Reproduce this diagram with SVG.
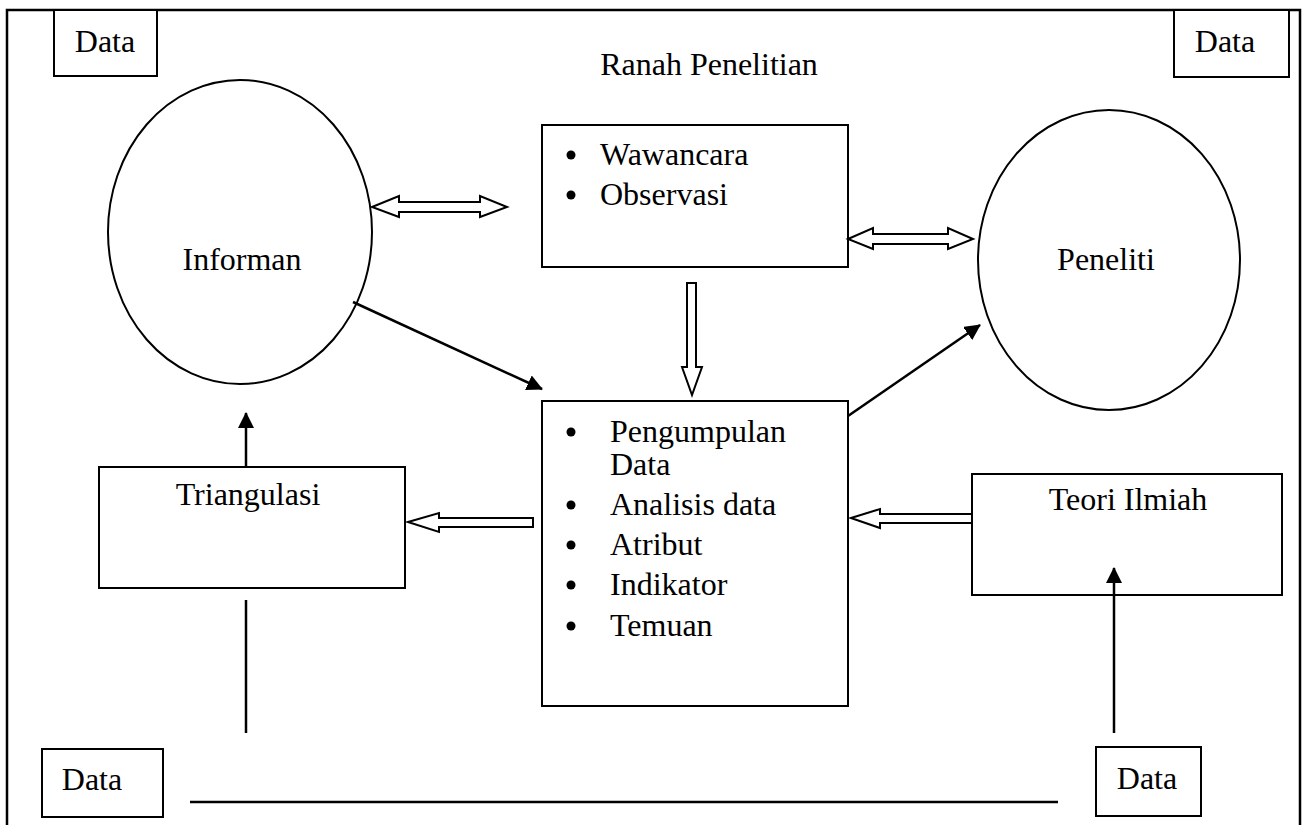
<svg xmlns="http://www.w3.org/2000/svg" width="1302" height="825" viewBox="0 0 1302 825">
<style>
.b{fill:#fff;stroke:#000;stroke-width:2}
.t{font-family:"Liberation Serif","Times New Roman",serif;font-size:32px;fill:#000}
.l{stroke:#000;stroke-width:2.5;fill:none}
.ba{fill:#fff;stroke:#000;stroke-width:2;stroke-linejoin:miter}
</style>
<defs>
<marker id="ah" markerWidth="8" markerHeight="8" refX="7" refY="4" orient="auto" markerUnits="userSpaceOnUse" viewBox="0 0 8 8">
<path d="M0,0 L8,4 L0,8 z" fill="#000"/>
</marker>
<marker id="ah2" viewBox="0 0 16 16" refX="15" refY="8" markerWidth="16" markerHeight="16" orient="auto" markerUnits="userSpaceOnUse">
<path d="M0,0 L16,8 L0,16 z" fill="#000"/>
</marker>
</defs>
<rect x="0" y="0" width="1302" height="825" fill="#fff"/>
<g id="frame">
<path d="M7,830 V10 H1300 V830" class="l" stroke-width="2"/>
</g>
<text class="t" x="709" y="75" text-anchor="middle" id="title">Ranah Penelitian</text>
<g id="data-tl"><rect class="b" x="54" y="10" width="103" height="66"/><text class="t" x="105" y="52" text-anchor="middle">Data</text></g>
<g id="data-tr"><rect class="b" x="1174" y="10" width="115" height="67"/><text class="t" x="1225" y="52" text-anchor="middle">Data</text></g>
<g id="data-bl"><rect class="b" x="42" y="749" width="121" height="68"/><text class="t" x="92" y="790" text-anchor="middle">Data</text></g>
<g id="data-br"><rect class="b" x="1096" y="747" width="105" height="69"/><text class="t" x="1147" y="789" text-anchor="middle">Data</text></g>
<g id="informan"><ellipse class="b" cx="240" cy="232" rx="132" ry="152"/><text class="t" x="242" y="270" text-anchor="middle">Informan</text></g>
<g id="peneliti"><ellipse class="b" cx="1109" cy="260" rx="131" ry="150"/><text class="t" x="1106" y="270" text-anchor="middle">Peneliti</text></g>
<g id="wawancara"><rect class="b" x="542" y="125" width="306" height="142"/>
<circle cx="571" cy="155" r="4.5"/><text class="t" x="600" y="165">Wawancara</text>
<circle cx="571" cy="195" r="4.5"/><text class="t" x="600" y="205">Observasi</text></g>
<g id="pengumpulan"><rect class="b" x="542" y="401" width="306" height="305"/>
<circle cx="571" cy="432" r="4.5"/><text class="t" x="610" y="442">Pengumpulan</text>
<text class="t" x="610" y="475">Data</text>
<circle cx="571" cy="505" r="4.5"/><text class="t" x="610" y="515">Analisis data</text>
<circle cx="571" cy="545" r="4.5"/><text class="t" x="610" y="555">Atribut</text>
<circle cx="571" cy="585" r="4.5"/><text class="t" x="610" y="595">Indikator</text>
<circle cx="571" cy="626" r="4.5"/><text class="t" x="610" y="636">Temuan</text></g>
<g id="triangulasi"><rect class="b" x="99" y="467" width="306" height="121"/><text class="t" x="248" y="505" text-anchor="middle">Triangulasi</text></g>
<g id="teori"><rect class="b" x="972" y="474" width="310" height="121"/><text class="t" x="1128" y="510" text-anchor="middle">Teori Ilmiah</text></g>
<g id="connectors">
<path class="ba" d="M372,207 L399,196 L399,202 L480,202 L480,196 L507,207 L480,217 L480,212 L399,212 L399,217 Z"/>
<path class="ba" d="M848,239 L873,228 L873,234 L948,234 L948,228 L973,239 L948,249 L948,244 L873,244 L873,249 Z"/>
<path class="ba" d="M687,283 L696,283 L696,367 L702,367 L692,395 L682,367 L687,367 Z"/>
<path class="ba" d="M408,522 L439,513 L439,518 L533,518 L533,527 L439,527 L439,532 Z"/>
<path class="ba" d="M851,518 L880,509 L880,514 L972,514 L972,523 L880,523 L880,528 Z"/>
<line class="l" x1="353" y1="302" x2="542" y2="389" marker-end="url(#ah2)"/>
<line class="l" x1="848" y1="416" x2="980" y2="325" marker-end="url(#ah2)"/>
<line class="l" x1="246" y1="467" x2="246" y2="413" marker-end="url(#ah2)"/>
<line class="l" x1="1114" y1="733" x2="1114" y2="568" marker-end="url(#ah2)"/>
<line class="l" x1="246" y1="600" x2="246" y2="733"/>
<line class="l" x1="190" y1="802" x2="1058" y2="802"/>
</g>
</svg>
